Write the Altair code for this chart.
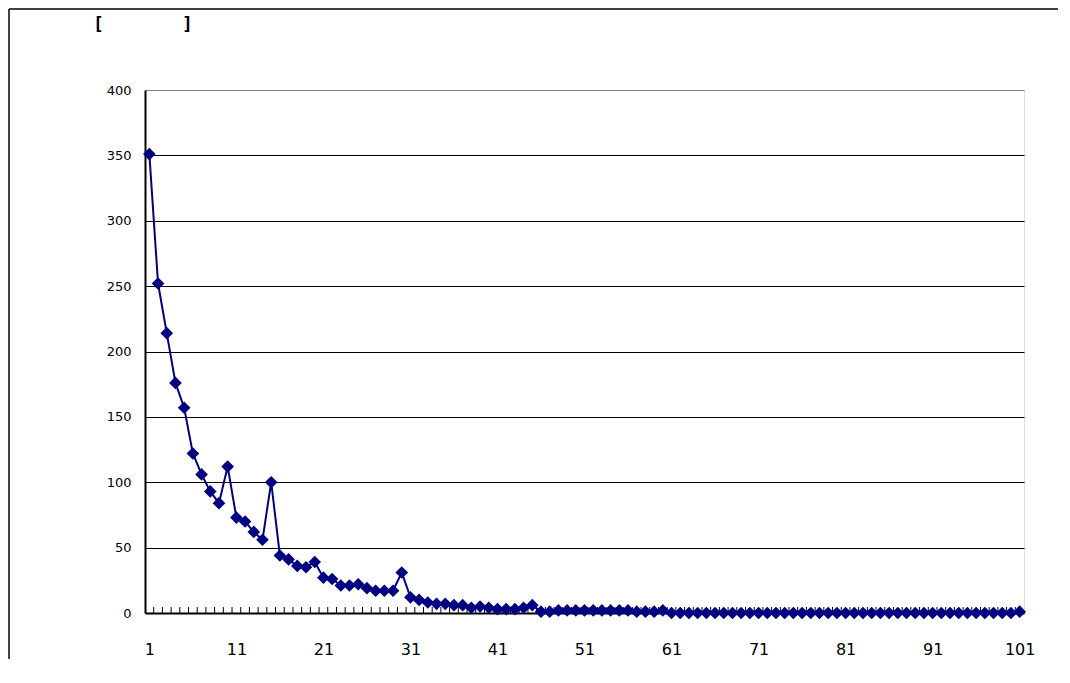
import altair as alt
import pandas as pd

# ---- data ----
cases = list(range(1, 102))
counts = [351, 252, 214, 176, 157, 122, 106, 93, 84, 112,
          73, 70, 62, 56, 100, 44, 41, 36, 35, 39,
          27, 26, 21, 21, 22, 19, 17, 17, 17, 31,
          12, 10, 8, 7, 7, 6, 6, 4, 5, 4,
          3, 3, 3, 4, 6, 1, 1, 2, 2, 2,
          2, 2, 2, 2, 2, 2, 1, 1, 1, 2,
          0, 0, 0, 0, 0, 0, 0, 0, 0, 0,
          0, 0, 0, 0, 0, 0, 0, 0, 0, 0,
          0, 0, 0, 0, 0, 0, 0, 0, 0, 0,
          0, 0, 0, 0, 0, 0, 0, 0, 0, 0,
          1]
x_tick_labels = list(range(1, 102, 10))
y_tick_values = list(range(0, 401, 50))
category_edges = [c + 0.5 for c in cases[:-1]]
title_left = "["
title_right = "]"

NAVY = "#000080"
W, H = 879, 523
PAD = {"left": 137, "top": 82, "right": 34, "bottom": 46}

df = pd.DataFrame({"x": cases, "y": counts})
edges = pd.DataFrame({"e": category_edges})

xscale = alt.Scale(domain=[0.5, 101.5], nice=False, zero=False)
yscale = alt.Scale(domain=[0, 400], nice=False)

xaxis = alt.Axis(values=x_tick_labels, ticks=False, grid=False, domain=True,
                 domainColor="#000000", domainWidth=2, labelFontSize=16,
                 labelFont="DejaVu Sans", labelColor="#000000", labelPadding=28,
                 title=None, labelFlush=False)
yaxis = alt.Axis(values=y_tick_values, ticks=False, grid=True,
                 gridColor=alt.condition("datum.value == 400", alt.value("#808080"), alt.value("#000000")),
                 gridWidth=1, domain=True, domainColor="#000000", domainWidth=2,
                 labelFontSize=13, labelFont="DejaVu Sans", labelColor="#000000",
                 labelPadding=14, title=None)

base = alt.Chart(df)

line = base.mark_line(color=NAVY, strokeWidth=2).encode(
    x=alt.X("x:Q", scale=xscale, axis=xaxis),
    y=alt.Y("y:Q", scale=yscale, axis=yaxis),
)
points = base.mark_point(shape="diamond", filled=True, size=160, color=NAVY, opacity=1).encode(
    x=alt.X("x:Q", scale=xscale),
    y=alt.Y("y:Q", scale=yscale),
)

ticks = alt.Chart(edges).mark_rule(color="#000000", strokeWidth=1).encode(
    x=alt.X("e:Q", scale=xscale),
    y=alt.value(H),
    y2=alt.value(H - 6),
)

one = alt.Data(values=[{"a": 1}])
border_top = alt.Chart(one).mark_rule(color="#000000", strokeWidth=1.5).encode(
    x=alt.value(-PAD["left"] + 1), x2=alt.value(W + PAD["right"]), y=alt.value(-PAD["top"] + 1)
)
border_left = alt.Chart(one).mark_rule(color="#000000", strokeWidth=1.5).encode(
    x=alt.value(-PAD["left"] + 1), y=alt.value(-PAD["top"] + 1), y2=alt.value(H + PAD["bottom"])
)

t1 = alt.Chart(one).mark_text(text=title_left, font="DejaVu Sans Mono", fontSize=18,
                              fontWeight="bold", align="left", baseline="middle",
                              color="#000000").encode(x=alt.value(-52), y=alt.value(-65))
t2 = alt.Chart(one).mark_text(text=title_right, font="DejaVu Sans Mono", fontSize=18,
                              fontWeight="bold", align="left", baseline="middle",
                              color="#000000").encode(x=alt.value(37), y=alt.value(-65))

chart = alt.layer(ticks, line, points, border_top, border_left, t1, t2).properties(
    width=W, height=H,
    autosize=alt.AutoSizeParams(type="none"),
    padding=PAD,
).configure_view(stroke="#808080", strokeWidth=1.5).configure(background="white")

chart.save("out.html", embed_options={"renderer": "svg", "actions": False})
